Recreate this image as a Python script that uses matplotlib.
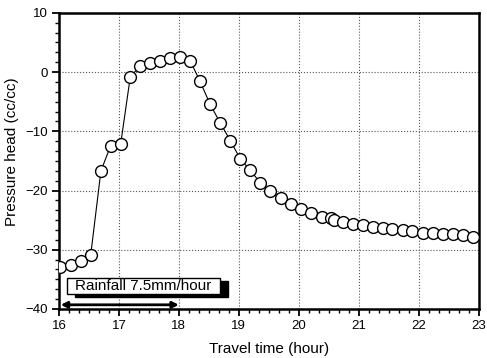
import matplotlib
matplotlib.use("Agg")
import matplotlib.pyplot as plt
from matplotlib.patches import Rectangle
from matplotlib.ticker import AutoMinorLocator

plt.rcParams['font.family'] = ['Liberation Sans', 'DejaVu Sans']

# Data
time_h = [16.02, 16.20, 16.36, 16.53, 16.70, 16.86, 17.03, 17.19, 17.36, 17.52,
          17.69, 17.85, 18.02, 18.19, 18.35, 18.52, 18.69, 18.86, 19.02, 19.19,
          19.36, 19.52, 19.70, 19.87, 20.03, 20.20, 20.38, 20.53, 20.58, 20.74,
          20.90, 21.07, 21.23, 21.40, 21.56, 21.73, 21.89, 22.07, 22.24, 22.40,
          22.57, 22.74, 22.90]
pressure_head = [-32.9, -32.5, -31.9, -30.9, -16.7, -12.5, -12.1, -0.8, 1.1, 1.5,
                 1.9, 2.4, 2.6, 1.9, -1.5, -5.4, -8.6, -11.6, -14.6, -16.6,
                 -18.7, -20.1, -21.3, -22.3, -23.2, -23.8, -24.4, -24.7, -25.0, -25.3,
                 -25.6, -25.9, -26.1, -26.4, -26.5, -26.7, -26.9, -27.1, -27.1, -27.3,
                 -27.4, -27.5, -27.8]
rain_start, rain_end = 16.0, 18.0
rain_label = "Rainfall 7.5mm/hour"
x_ticks = [16, 17, 18, 19, 20, 21, 22, 23]
y_ticks = [-40, -30, -20, -10, 0, 10]

fig = plt.figure(figsize=(4.87, 3.58), dpi=100)
ax = fig.add_axes([0.121, 0.137, 0.862, 0.827])

ax.plot(time_h, pressure_head, color='black', lw=0.8, marker='o', markersize=8.5,
        markerfacecolor='white', markeredgecolor='black', markeredgewidth=1.0, zorder=3)

ax.set_xlim(16, 23)
ax.set_ylim(-40, 10)
ax.set_xticks(x_ticks)
ax.set_yticks(y_ticks)
ax.xaxis.set_minor_locator(AutoMinorLocator(6))
ax.yaxis.set_minor_locator(AutoMinorLocator(6))
ax.tick_params(which='major', direction='out', length=5, width=1.3, labelsize=9.5, pad=3)
ax.tick_params(which='minor', direction='out', length=3, width=1.0)
ax.grid(True, which='major', linestyle=':', color='#555555', lw=0.8)
ax.set_axisbelow(True)
for s in ax.spines.values():
    s.set_linewidth(1.8)

ax.set_xlabel('Travel time (hour)', fontsize=11, labelpad=7)
ax.set_ylabel('Pressure head (cc/cc)', fontsize=11, labelpad=9)
ax.yaxis.set_label_coords(-0.095, 0.53)

# Rainfall label box with shadow
bx0, bx1, by0, by1 = 16.13, 18.69, -37.5, -34.7
ax.add_patch(Rectangle((bx0 + 0.13, by0 - 0.56), bx1 - bx0, by1 - by0,
                       facecolor='black', edgecolor='black', zorder=4))
ax.add_patch(Rectangle((bx0, by0), bx1 - bx0, by1 - by0,
                       facecolor='white', edgecolor='black', lw=1.0, zorder=5))
ax.text((bx0 + bx1) / 2, (by0 + by1) / 2, rain_label, fontsize=11,
        ha='center', va='center', zorder=6)

ax.annotate('', xy=(rain_end, -39.3), xytext=(rain_start + 0.03, -39.3),
            arrowprops=dict(arrowstyle='<|-|>', lw=2, color='black',
                            mutation_scale=9, shrinkA=0, shrinkB=0), zorder=6)

fig.savefig('out.png', dpi=100)
